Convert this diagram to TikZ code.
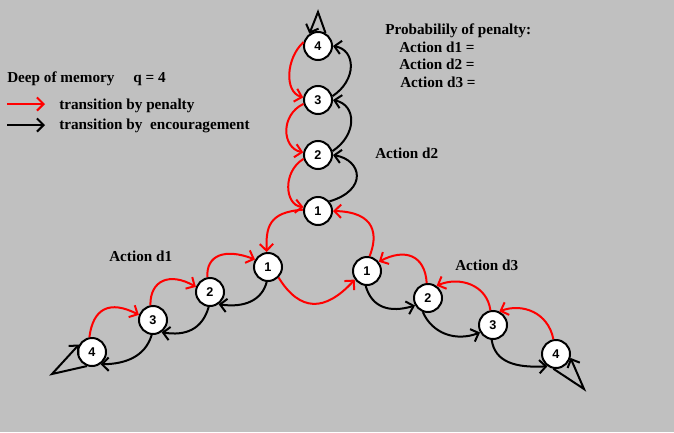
\documentclass[tikz,border=0pt]{standalone}
\usepackage{fontspec}
\setmainfont{Liberation Serif}
\newfontfamily\numfont{Liberation Sans}
\usetikzlibrary{arrows.meta}

\begin{document}
\begin{tikzpicture}[x=0.75pt,y=0.75pt,yscale=-1,xscale=1,
  state/.style={circle,draw=black,fill=white,line width=1.5pt,minimum size=21pt,inner sep=0pt,font=\numfont\bfseries\fontsize{9.5}{9.5}\selectfont},
  pen/.style={color={rgb, 255:red, 255; green, 0; blue, 0 },line width=1.5pt,-{Straight Barb[length=5pt,width=10pt]}},
  enc/.style={color=black,line width=1.5pt,-{Straight Barb[length=5pt,width=10pt]}},
  lbl/.style={anchor=west,inner sep=0pt,font=\bfseries\fontsize{11.4}{13}\selectfont}]
%set diagram background and size
\fill [color={rgb, 255:red, 192; green, 192; blue, 192 }] (0,0) rectangle (674,432) ;
\useasboundingbox (0,0) rectangle (674,432) ;

%Shape: Circle - branch d2
\node [state] (t4) at (318,46) {4};
\node [state] (t3) at (318,100) {3};
\node [state] (t2) at (318,155) {2};
\node [state] (t1) at (318,211) {1};
%Shape: Circle - branch d1
\node [state] (l1) at (268,267) {1};
\node [state] (l2) at (210,292) {2};
\node [state] (l3) at (153,320) {3};
\node [state] (l4) at (92,352) {4};
%Shape: Circle - branch d3
\node [state] (r1) at (367,271) {1};
\node [state] (r2) at (428,298) {2};
\node [state] (r3) at (493,325) {3};
\node [state] (r4) at (556,354) {4};

%Curve Lines - branch d2
\draw [pen] (t4.165) .. controls (286,58) and (284,92) .. (t3.170) ;
\draw [pen] (t3.195) .. controls (280,115) and (282,148) .. (t2.170) ;
\draw [pen] (t2.195) .. controls (282,172) and (285,205) .. (t1.165) ;
\draw [enc] (t3.15) .. controls (357,80) and (356,50) .. (t4.0) ;
\draw [enc] (t2.15) .. controls (357,135) and (357,105) .. (t3.0) ;
\draw [enc] (t1.40) .. controls (368,190) and (362,160) .. (t2.0) ;
\coordinate (t4loop) at (318,12) ;
\draw [enc] (t4.60) -- (t4loop) -- (t4.125) ;

%Curve Lines - between the states 1
\draw [pen] (t1.175) .. controls (268,212) and (266,228) .. (l1.95) ;
\draw [pen] (r1.80) .. controls (378,235) and (376,212) .. (t1.0) ;
\draw [pen] (l1.-45) .. controls (300,312) and (325,312) .. (r1.215) ;

%Curve Lines - branch d1
\draw [pen] (l2.100) .. controls (206,255) and (225,248) .. (l1.150) ;
\draw [pen] (l3.100) .. controls (150,280) and (170,272) .. (l2.160) ;
\draw [pen] (l4.100) .. controls (93,308) and (110,300) .. (l3.160) ;
\draw [enc] (l1.-95) .. controls (262,300) and (245,308) .. (l2.-55) ;
\draw [enc] (l2.-95) .. controls (202,330) and (185,336) .. (l3.-55) ;
\draw [enc] (l3.-95) .. controls (145,357) and (125,364) .. (l4.-55) ;
\coordinate (l4loop) at (52,374) ;
\draw [enc] (l4.-110) -- (l4loop) -- (l4.150) ;

%Curve Lines - branch d3
\draw [pen] (r2.95) .. controls (425,255) and (405,248) .. (r1.38) ;
\draw [pen] (r3.100) .. controls (487,285) and (460,276) .. (r2.55) ;
\draw [pen] (r4.100) .. controls (548,312) and (522,303) .. (r3.65) ;
\draw [enc] (r1.-95) .. controls (372,308) and (390,313) .. (r2.210) ;
\draw [enc] (r2.-110) .. controls (432,333) and (455,342) .. (r3.210) ;
\draw [enc] (r3.-95) .. controls (495,362) and (515,368) .. (r4.235) ;
\coordinate (r4loop) at (584,389) ;
\draw [enc] (r4.-100) -- (r4loop) -- (r4.-15) ;

%Text - legend
\node [lbl] (memtxt) at (7,79) {Deep of memory\quad\ q = 4};
\node [lbl] (pentxt) at (59,106) {transition by penalty};
\node [lbl] (enctxt) at (59,126) {transition by\ \ encouragement};
\coordinate (penbeg) at (7,104) ;
\coordinate (penend) at (45,104) ;
\coordinate (encbeg) at (7,125) ;
\coordinate (encend) at (45,125) ;
\draw [pen] (penbeg) -- (penend) ;
\draw [enc] (encbeg) -- (encend) ;

%Text - probabilities
\node [lbl] (probtxt) at (385,31) {Probabilily of penalty:};
\node [lbl] (prob1) at (399,47) {Action d1 =};
\node [lbl] (prob2) at (399,64) {Action d2 =};
\node [lbl] (prob3) at (400,82) {Action d3 =};

%Text - branch names
\node [lbl] (act2) at (375,153) {Action d2};
\node [lbl] (act1) at (109,256) {Action d1};
\node [lbl] (act3) at (455,265) {Action d3};
\end{tikzpicture}
\end{document}
